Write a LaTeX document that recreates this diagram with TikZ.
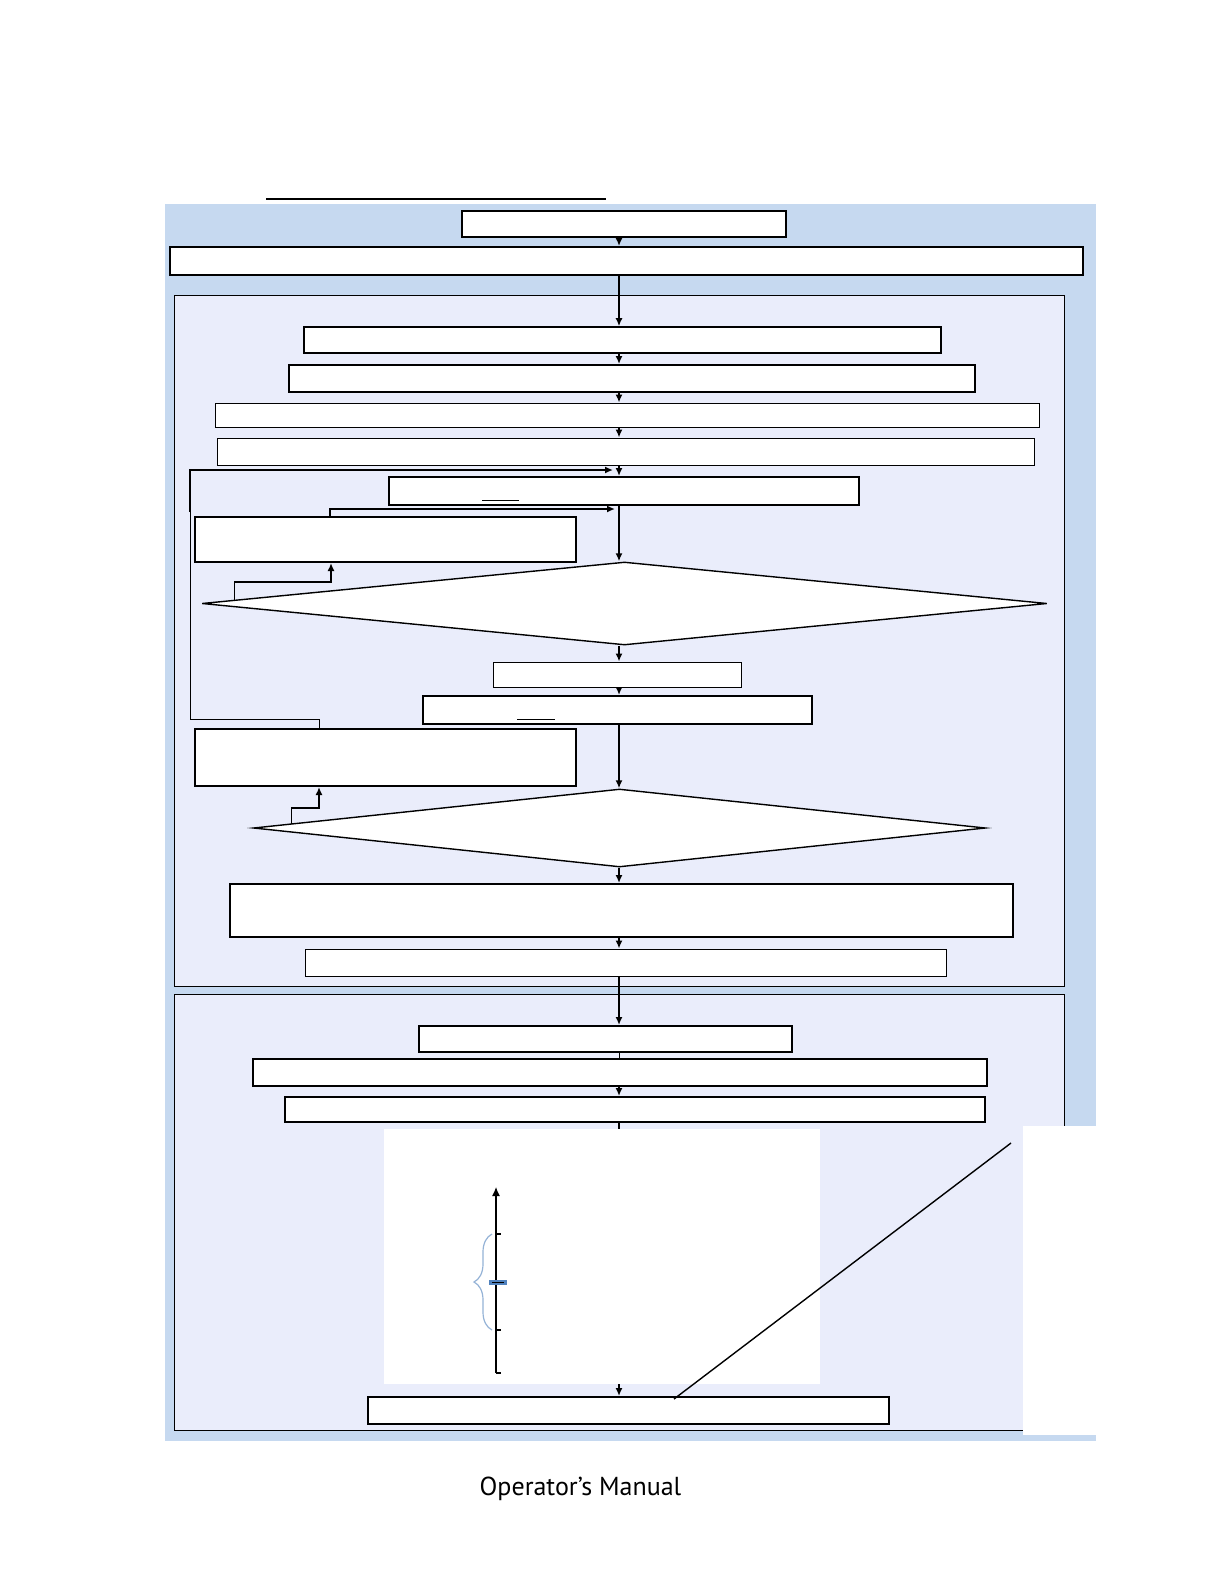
\documentclass[tikz,border=0pt]{standalone}
\usepackage{fontspec}
\newfontfamily\manualfont{PT Sans}
\usetikzlibrary{positioning,arrows.meta,calc,shapes.geometric,decorations.pathreplacing}
\definecolor{pageblue}{RGB}{198,217,240}
\definecolor{panelfill}{RGB}{234,237,251}
\definecolor{bracecol}{RGB}{149,179,215}
\definecolor{markblue}{RGB}{79,129,189}
\tikzset{
  flowarrow/.style={-{Latex[length=4pt,width=3.5pt]}, line width=0.8pt},
  plainline/.style={line width=0.5pt},
  boldbox/.style={draw, line width=1pt, fill=white, inner sep=0pt},
  thinbox/.style={draw, line width=0.5pt, fill=white, inner sep=0pt},
  decbox/.style={draw, diamond, line width=0.7pt, fill=white, inner sep=0pt},
  panelbox/.style={draw, line width=0.5pt, fill=panelfill}
}

\begin{document}
\begin{tikzpicture}[x=0.5pt, y=-0.5pt]
      \useasboundingbox (0,0) rectangle (1224,1584);
      % page background and panels
      \fill[pageblue] (165,204) rectangle (1096,1441);
      \draw[panelbox] (174,295) rectangle (1064,986);
      \draw[panelbox] (174,994) rectangle (1064,1430);
      \draw[line width=1pt] (266,199) -- (606,199);
      \coordinate (spine) at (619,0);
      % top
      \node[boldbox, minimum width=162pt, minimum height=13pt] (head) at (624,224) {};
      \node[boldbox, minimum width=456.5pt, minimum height=14pt] (intro) at (626.5,261) {};
      % first panel
      \node[boldbox, line width=0.8pt, minimum width=318.5pt, minimum height=13pt] (s1) at (622.5,340) {};
      \node[boldbox, minimum width=343pt, minimum height=13.5pt] (s2) at (632,378.5) {};
      \node[thinbox, minimum width=412pt, minimum height=12pt] (s3) at (627,415) {};
      \node[thinbox, minimum width=408.5pt, minimum height=13.5pt] (s4) at (625.5,451.5) {};
      \node[boldbox, minimum width=235pt, minimum height=14pt] (chk) at (624,491) {};
      \node[boldbox, minimum width=190.5pt, minimum height=22.5pt] (fixa) at (385.5,539.5) {};
      \node[decbox, minimum width=422.5pt, minimum height=41.5pt] (q1) at (624.5,603.5) {};
      \node[thinbox, minimum width=124pt, minimum height=12.5pt] (s5) at (617,674.5) {};
      \node[boldbox, minimum width=194.5pt, minimum height=14pt] (chk2) at (617.5,710) {};
      \node[boldbox, minimum width=190.5pt, minimum height=28.5pt] (fixb) at (385.5,757.5) {};
      \node[decbox, minimum width=366pt, minimum height=39pt] (q2) at (619.5,828) {};
      \node[boldbox, minimum width=391.5pt, minimum height=26.5pt] (res) at (621.5,910.5) {};
      \node[thinbox, minimum width=320.5pt, minimum height=13.5pt] (rec) at (625.5,962.5) {};
      % second panel
      \node[boldbox, minimum width=186.5pt, minimum height=13pt] (t1) at (605.5,1039) {};
      \node[boldbox, minimum width=367pt, minimum height=13.5pt] (t2) at (620,1072.5) {};
      \node[boldbox, minimum width=350pt, minimum height=12.5pt] (t3) at (635,1109.5) {};
      \node[boldbox, minimum width=260.5pt, minimum height=13.5pt] (fin) at (628.5,1410.5) {};
      % underlines in boxes
      \draw[plainline] ($(chk.south west)+(94,-6)$) -- ++(37,0);
      \draw[plainline] ($(chk2.south west)+(95,-6)$) -- ++(38,0);
      % main flow
      \draw[flowarrow] (head.south -| spine) -- (intro.north -| spine);
      \draw[flowarrow] (intro.south -| spine) -- (s1.north -| spine);
      \draw[flowarrow] (s1.south -| spine) -- (s2.north -| spine);
      \draw[flowarrow] (s2.south -| spine) -- (s3.north -| spine);
      \draw[flowarrow] (s3.south -| spine) -- (s4.north -| spine);
      \draw[flowarrow] (s4.south -| spine) -- (chk.north -| spine);
      \draw[flowarrow] (chk.south -| spine) -- (q1.north -| spine);
      \draw[flowarrow] (q1.south -| spine) -- (s5.north -| spine);
      \draw[flowarrow] (s5.south -| spine) -- (chk2.north -| spine);
      \draw[flowarrow] (chk2.south -| spine) -- (q2.north -| spine);
      \draw[flowarrow] (q2.south -| spine) -- (res.north -| spine);
      \draw[flowarrow] (res.south -| spine) -- (rec.north -| spine);
      \draw[flowarrow] (rec.south -| spine) -- (t1.north -| spine);
      \draw[plainline] (t1.south -| spine) -- (t2.north -| spine);
      \draw[flowarrow] (t2.south -| spine) -- (t3.north -| spine);
      \draw[flowarrow] (t3.south -| spine) -- (fin.north -| spine);
      % side loops
      \coordinate (loopin) at (613,470);
      \coordinate (fixin) at (615,509);
      \coordinate (bend) at (190,512);
      \draw[plainline] ($(fixb.north west)+(125,0)$) |- (190,719) -- (bend);
      \draw[flowarrow] (bend) |- (loopin);
      \draw[flowarrow] ($(fixa.north west)+(136,0)$) |- (fixin);
      \draw[flowarrow] ($(q1.west)!0.078!(q1.north)$) |- ($(fixa.south west)+(137,19)$) -- ($(fixa.south west)+(137,0)$);
      \draw[flowarrow] ($(q2.west)!0.105!(q2.north)$) |- ($(fixb.south west)+(125,21)$) -- ($(fixb.south west)+(125,0)$);
      % chart area
      \fill[white] (384,1129) rectangle (820,1384);
      \draw[-{Latex[length=4.5pt,width=4pt]}, line width=0.6pt] (496,1373) -- (496,1187);
      \foreach \yy in {1234,1330,1373}
        \draw[line width=0.6pt] (496,\yy) -- (501,\yy);
      \draw[bracecol, line width=0.6pt, decorate, decoration={brace, amplitude=9pt}] (492,1330) -- (492,1234);
      \fill[markblue] (489,1280) rectangle (507,1285);
      \draw[line width=0.6pt] (492,1282.5) -- (504,1282.5);
      % callout
      \coordinate (callout) at (1011,1143);
      \draw[line width=0.7pt] ($(fin.north west)+(307,3)$) -- (callout);
      \fill[white] (1023,1126) rectangle (1096,1435);
      % footer
      \node[anchor=base, font=\manualfont\fontsize{13}{15}\selectfont, inner sep=0pt] (footer) at (580.5,1495) {Operator’s Manual};
\end{tikzpicture}
\end{document}
